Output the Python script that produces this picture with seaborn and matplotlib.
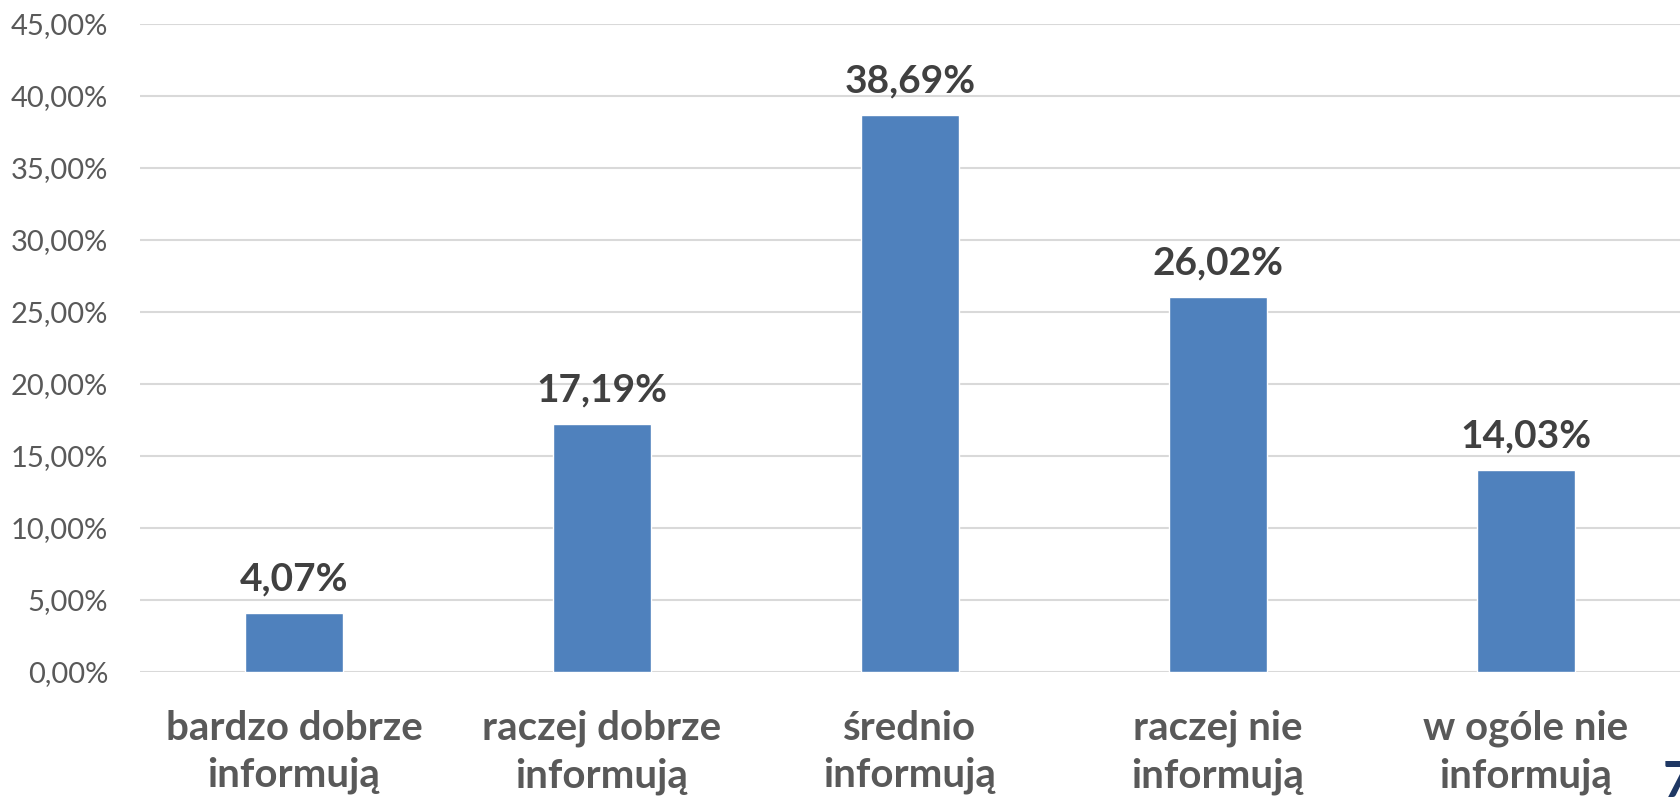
import matplotlib
matplotlib.use("Agg")
import matplotlib.pyplot as plt
from matplotlib.ticker import FuncFormatter
import seaborn as sns

# categories and shares (percent)
categories = [
    "bardzo dobrze\ninformują",
    "raczej dobrze\ninformują",
    "średnio\ninformują",
    "raczej nie\ninformują",
    "w ogóle nie\ninformują",
]
values = [4.07, 17.19, 38.69, 26.02, 14.03]
y_ticks = [0, 5, 10, 15, 20, 25, 30, 35, 40, 45]
slide_number = "7"

def pl_pct(v, pos=None):
    # polish decimal comma
    return f"{v:.2f}".replace(".", ",") + "%"

sns.set_theme(style="white")
plt.rcParams["font.family"] = ["Lato", "DejaVu Sans"]

fig = plt.figure(figsize=(16.81, 7.99), dpi=100)
ax = fig.add_axes([140 / 1681, 127 / 799, 1540 / 1681, 648 / 799])

sns.barplot(x=categories, y=values, color="#4F81BD", saturation=1, width=0.315, ax=ax, zorder=3)

ax.set_ylim(0, 45)
ax.set_yticks(y_ticks)
ax.yaxis.set_major_formatter(FuncFormatter(lambda v, p: pl_pct(v)))
ax.grid(axis="y", color="#D9D9D9", linewidth=1.5, zorder=0)
ax.set_axisbelow(True)
for s in ax.spines.values():
    s.set_visible(False)
ax.tick_params(axis="y", length=0, pad=23, labelsize=21, labelcolor="#595959")
ax.tick_params(axis="x", length=0, pad=27, labelsize=29, labelcolor="#595959")
for lbl in ax.get_xticklabels():
    lbl.set_fontweight("bold")
    lbl.set_linespacing(1.35)
ax.set_xlabel("")
ax.set_ylabel("")

ax.bar_label(ax.containers[0], labels=[pl_pct(v) for v in values], padding=12,
             fontsize=28, fontweight="bold", color="#404040")

# slide number peeking in at the corner
fig.text(1663 / 1681, -6 / 799, slide_number, fontsize=36, fontweight="bold",
         color="#1F3864", ha="left", va="bottom")

fig.savefig("out.png", dpi=100)
